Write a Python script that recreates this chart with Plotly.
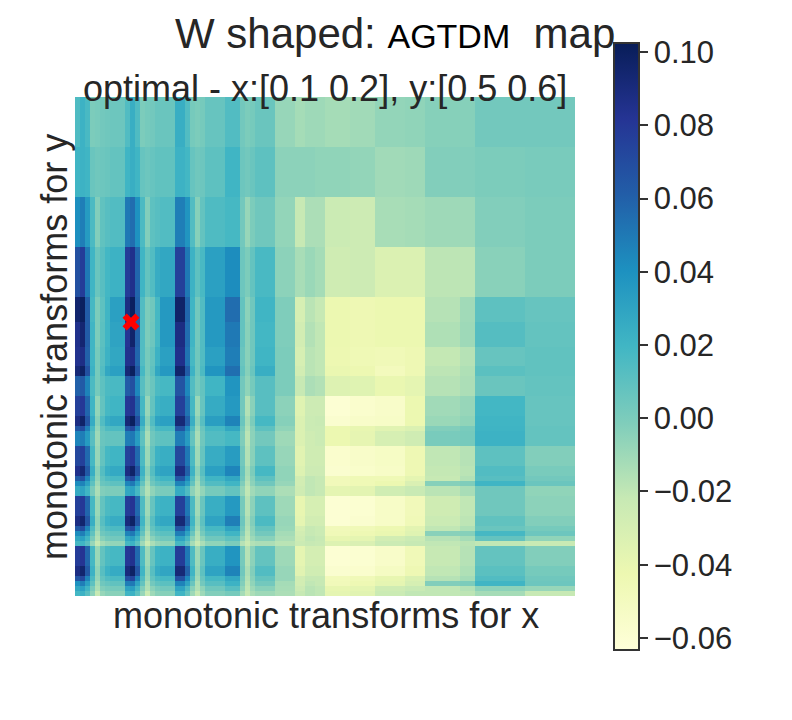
"""W shaped AGTDM heatmap over monotonic transforms for x and y."""

import numpy as np
import plotly.graph_objects as go

# how many grid cells each block of columns / rows spans
col_spans = [1, 1, 1, 1, 1, 1, 1, 3, 1, 1, 1, 1, 1, 1, 1, 3, 2, 1, 1, 1, 1, 4, 3, 1, 1, 1, 4, 4, 2, 2, 2, 5, 5, 6, 4, 7, 3, 10, 10]
row_spans = [10, 10, 10, 10, 5, 5, 4, 2, 4, 4, 2, 1, 3, 4, 2, 1, 1, 2, 4, 2, 1, 1, 1, 1, 4, 2, 1, 1, 1, 1]

# block values, in thousandths
z_milli = [
    [15, 22, 17, 0, 1, 3, 4, 5, 14, 24, 15, 0, 2, 3, 6, 6, 24, 14, 2, 0, 2, 7, 14, 3, 0, 2, 6, -8, -12, -10, -10, -12, -11, -7, -6, -3, -3, 3, 3],
    [20, 22, 20, 6, 4, 5, 6, 8, 20, 24, 20, 7, 5, 7, 9, 9, 22, 19, 7, 4, 5, 10, 20, 5, 3, 6, 10, -5, -5, -5, -6, -6, -7, -11, -10, -2, -2, 0, 1],
    [41, 48, 35, 16, -2, 9, 12, 14, 50, 55, 40, 16, -2, 10, 12, 14, 48, 38, 14, -3, 8, 15, 18, 3, -8, 0, 4, -7, -22, -14, -14, -24, -25, -13, -12, -10, -10, -2, 0],
    [68, 78, 50, 20, 6, 12, 19, 22, 78, 85, 58, 20, 8, 14, 25, 28, 76, 50, 22, 10, 17, 32, 42, 5, 0, 8, 17, -5, -13, -9, -12, -26, -25, -33, -33, -19, -19, -4, 0],
    [95, 100, 62, 18, 0, 10, 20, 32, 88, 100, 60, 14, 0, 4, 18, 36, 97, 58, 20, 3, 14, 36, 55, 8, -5, 4, 20, -1, -30, -18, -22, -42, -44, -42, -42, -17, -11, 10, 7],
    [85, 94, 62, 20, 0, 11, 20, 30, 82, 96, 60, 14, 0, 5, 18, 36, 88, 55, 20, 3, 14, 36, 50, 8, -4, 4, 19, -1, -28, -16, -20, -42, -44, -42, -42, -15, -10, 13, 8],
    [84, 87, 60, 20, 2, 12, 22, 28, 84, 86, 58, 14, 2, 8, 22, 32, 85, 52, 18, 4, 14, 32, 48, 6, -4, 4, 20, 0, -30, -18, -20, -43, -45, -46, -44, -21, -17, 7, 9],
    [92, 98, 68, 22, 2, 14, 28, 32, 92, 100, 66, 18, 2, 10, 28, 36, 96, 62, 22, 4, 16, 38, 54, 8, -3, 6, 24, 0, -28, -18, -20, -41, -43, -49, -44, -19, -15, 11, 9],
    [60, 63, 46, 16, 2, 10, 16, 17, 62, 68, 44, 12, 0, 6, 16, 18, 66, 44, 14, 2, 8, 20, 38, 3, -6, 2, 12, 0, -22, -14, -16, -34, -35, -41, -38, -17, -14, 6, 8],
    [76, 80, 58, 20, -7, 8, 18, 20, 80, 83, 58, 18, -8, 8, 22, 24, 76, 52, 18, -9, 7, 26, 36, 3, -16, -4, 12, -5, -35, -25, -25, -60, -57, -55, -42, -11, -8, 19, 7],
    [88, 97, 66, 26, -3, 14, 25, 28, 92, 100, 70, 25, -3, 14, 30, 32, 92, 62, 24, -4, 12, 33, 46, 6, -12, 0, 18, -3, -33, -24, -23, -58, -55, -54, -42, -9, -6, 20, 7],
    [65, 70, 48, 17, -7, 8, 15, 16, 65, 72, 48, 16, -8, 8, 17, 18, 66, 44, 15, -9, 6, 18, 28, 2, -15, -4, 10, -6, -33, -24, -24, -42, -40, -36, -33, -2, 1, 21, 8],
    [45, 48, 35, 12, -10, 6, 8, 8, 48, 50, 34, 10, -13, 4, 9, 10, 48, 34, 8, -13, 4, 14, 18, -1, -18, -5, 3, -10, -33, -26, -24, -42, -39, -30, -26, 1, 2, 22, 8],
    [72, 76, 56, 18, -8, 8, 18, 20, 75, 80, 56, 16, -9, 8, 22, 24, 72, 50, 16, -10, 7, 25, 34, 3, -16, -4, 10, -8, -36, -26, -26, -57, -55, -53, -44, -20, -17, 10, -2],
    [85, 93, 64, 24, -4, 13, 24, 27, 88, 97, 68, 22, -4, 13, 28, 30, 88, 60, 22, -5, 12, 32, 45, 6, -12, 0, 18, -6, -34, -25, -25, -58, -56, -54, -44, -21, -18, 14, 1],
    [62, 68, 46, 16, -6, 9, 15, 17, 65, 72, 48, 16, -8, 8, 17, 20, 65, 44, 14, -9, 7, 20, 28, 4, -14, -3, 10, -6, -28, -20, -22, -47, -45, -45, -38, -22, -16, 12, 3],
    [42, 46, 32, 10, -10, 6, 8, 10, 45, 50, 32, 8, -12, 4, 10, 12, 46, 32, 8, -13, 4, 14, 20, -1, -17, -5, 4, -8, -28, -20, -22, -47, -45, -42, -32, -3, -1, 20, 6],
    [26, 30, 20, 1, -14, -2, 0, 0, 28, 31, 18, -2, -16, -6, 0, 1, 26, 15, -5, -15, -7, 2, 8, -7, -20, -11, -6, -14, -26, -20, -22, -38, -37, -27, -23, -18, -13, 4, -6],
    [76, 80, 58, 18, -9, 8, 16, 18, 78, 82, 56, 15, -10, 7, 20, 22, 76, 50, 16, -11, 6, 24, 36, 2, -17, -5, 10, -10, -40, -30, -30, -60, -59, -54, -47, -26, -20, 4, -5],
    [88, 95, 66, 24, -6, 12, 22, 25, 90, 98, 66, 20, -6, 12, 26, 28, 92, 60, 20, -7, 10, 30, 48, 5, -14, -2, 16, -8, -38, -28, -28, -60, -58, -54, -46, -24, -19, 9, -2],
    [64, 70, 46, 15, -8, 8, 14, 16, 66, 72, 46, 14, -9, 8, 16, 18, 66, 44, 14, -10, 6, 18, 30, 2, -16, -5, 8, -9, -30, -22, -24, -47, -46, -43, -37, -20, -15, 6, 2],
    [42, 48, 32, 9, -13, 4, 7, 9, 46, 50, 32, 8, -14, 3, 9, 11, 48, 30, 6, -15, 2, 12, 20, -2, -18, -6, 3, -12, -28, -22, -24, -46, -44, -41, -35, -4, -3, 18, 5],
    [28, 32, 20, 1, -16, -3, 2, 3, 28, 33, 20, -2, -17, -5, 2, 4, 30, 17, -4, -17, -6, 4, 10, -8, -20, -10, -4, -14, -26, -20, -22, -40, -38, -28, -24, -17, -12, 8, -6],
    [18, 20, 12, -8, -22, -12, -8, -7, 18, 22, 11, -10, -24, -14, -8, -6, 18, 7, -12, -23, -14, -6, 0, -17, -24, -16, -14, -18, -24, -22, -23, -34, -32, -24, -22, -20, -18, -20, -23],
    [78, 82, 58, 18, -9, 8, 16, 18, 80, 84, 56, 15, -10, 7, 20, 22, 78, 50, 15, -10, 6, 24, 38, 2, -17, -5, 8, -10, -38, -29, -29, -60, -59, -55, -46, -22, -17, 8, -2],
    [88, 95, 64, 22, -6, 12, 22, 26, 90, 98, 66, 20, -7, 12, 26, 29, 92, 60, 20, -8, 10, 30, 46, 4, -14, -2, 14, -8, -36, -27, -27, -58, -57, -52, -44, -20, -15, 11, 2],
    [66, 72, 46, 16, -8, 8, 14, 16, 68, 74, 46, 14, -9, 8, 16, 18, 68, 44, 14, -11, 6, 18, 28, 1, -16, -4, 8, -8, -28, -22, -22, -48, -46, -40, -33, -17, -12, 14, 4],
    [40, 48, 32, 10, -12, 4, 7, 9, 48, 50, 30, 8, -14, 3, 9, 11, 46, 30, 6, -15, 3, 12, 22, -2, -18, -6, 3, -12, -28, -20, -22, -47, -44, -38, -30, -2, 0, 20, 5],
    [28, 32, 20, 1, -15, -2, 1, 2, 30, 33, 18, -2, -16, -5, 1, 3, 30, 15, -4, -16, -6, 4, 12, -6, -20, -10, -4, -13, -25, -18, -20, -40, -38, -26, -23, -20, -16, -5, -8],
    [19, 22, 12, -5, -22, -8, -4, -4, 20, 22, 10, -8, -24, -10, -4, -3, 20, 8, -10, -22, -10, -2, 2, -12, -22, -14, -10, -14, -22, -18, -20, -38, -36, -24, -20, -20, -19, -12, -22],
]

optimal_x = [11.2]
optimal_y = [45.1]
cbar_ticks = [-0.06, -0.04, -0.02, 0.0, 0.02, 0.04, 0.06, 0.08, 0.10]

YLGNBU = ["#ffffd9", "#edf8b1", "#c7e9b4", "#7fcdbb", "#41b6c4", "#1d91c0", "#225ea8", "#253494", "#081d58"]
FONT = "Liberation Sans"
TEXT = "#262626"

# the page body adds an 8px margin, so the figure is smaller than the window
FIG_W, FIG_H, BODY = 776, 704, 8


def px_x(x):
    return (x - BODY) / FIG_W


def px_y(y):
    return 1 - (y - BODY) / FIG_H


z = np.repeat(np.repeat(np.array(z_milli) / 1000.0, row_spans, axis=0), col_spans, axis=1)

fig = go.Figure()
fig.add_trace(
    go.Heatmap(
        z=z,
        x0=0.5,
        dx=1,
        y0=0.5,
        dy=1,
        zmin=-0.0633,
        zmax=0.1025,
        colorscale=[[i / 8, c] for i, c in enumerate(YLGNBU)],
        colorbar={
            "x": px_x(614),
            "xanchor": "left",
            "y": px_y(43),
            "yanchor": "top",
            "lenmode": "pixels",
            "len": 607,
            "thicknessmode": "pixels",
            "thickness": 25,
            "xpad": 0,
            "ypad": 0,
            "outlinecolor": "#333333",
            "outlinewidth": 2,
            "tickvals": cbar_ticks,
            "tickformat": ".2f",
            "ticks": "outside",
            "ticklen": 8,
            "tickwidth": 2,
            "tickcolor": "#333333",
            "tickfont": {"family": FONT, "size": 31, "color": TEXT},
        },
        hoverongaps=False,
    )
)
fig.add_trace(
    go.Scatter(
        x=optimal_x,
        y=optimal_y,
        mode="markers",
        marker={"symbol": "x", "size": 15, "color": "#ff0000", "line": {"width": 0}},
        showlegend=False,
    )
)

title = "W shaped: <span style='font-size:34px;color:#000000'>AGTDM</span>  map"
fig.add_annotation(text=title, x=px_x(395), y=px_y(33), font={"size": 42})
fig.add_annotation(text="optimal - x:[0.1 0.2], y:[0.5 0.6]", x=px_x(325), y=px_y(89), font={"size": 36})
fig.add_annotation(text="monotonic transforms for x", x=px_x(326), y=px_y(615), font={"size": 36})
fig.add_annotation(text="monotonic transforms for y", x=px_x(55), y=px_y(347), textangle=-90, font={"size": 36})
fig.update_annotations(
    xref="paper", yref="paper", showarrow=False, xanchor="center", yanchor="middle",
    font_family=FONT, font_color=TEXT,
)

fig.update_layout(
    width=FIG_W,
    height=FIG_H,
    margin={"l": 0, "r": 0, "t": 0, "b": 0},
    paper_bgcolor="#ffffff",
    plot_bgcolor="#ffffff",
    showlegend=False,
)
fig.update_xaxes(domain=[px_x(75), px_x(575)], range=[0, 100], visible=False)
fig.update_yaxes(domain=[px_y(596), px_y(97)], range=[100, 0], visible=False)

fig.write_html("out.html")
